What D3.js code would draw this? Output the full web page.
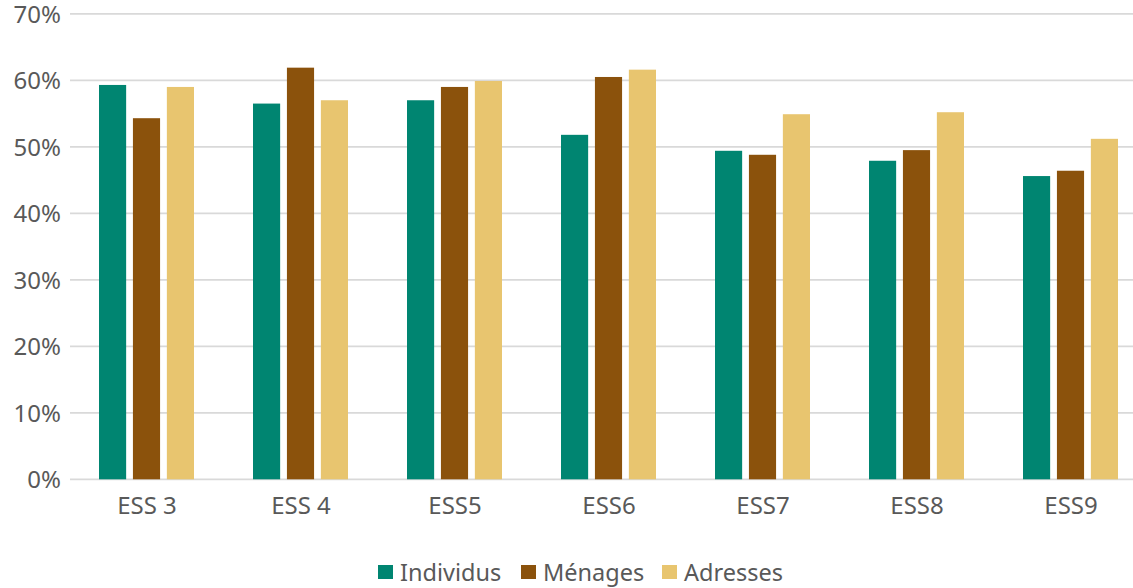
<!DOCTYPE html>
<html><head><meta charset="utf-8">
<script src="https://cdn.jsdelivr.net/npm/d3@7"></script>
<style>body{margin:0;background:#fff}svg{display:block}text{font-family:"Noto Sans",sans-serif;fill:#595959}</style>
</head><body>
<svg id="c" width="1133" height="588"></svg>
<script>
const categories = ["ESS 3","ESS 4","ESS5","ESS6","ESS7","ESS8","ESS9"];
const seriesNames = ["Individus","Ménages","Adresses"];
const individus = [59.3,56.5,57.0,51.8,49.4,47.9,45.6];
const menages   = [54.3,61.9,59.0,60.5,48.8,49.5,46.4];
const adresses  = [59.0,57.0,59.9,61.6,54.9,55.2,51.2];
const yTicks = [0,10,20,30,40,50,60,70];
const colors = ["#008571","#8b520c","#e8c56f"];
const seriesValues = [individus, menages, adresses];

const svg = d3.select("#c");
const x = d3.scaleBand().domain(categories).range([70,1148]);
const y = d3.scaleLinear().domain([0,70]).range([479.3,13.8]);
const x1 = d3.scaleBand().domain(seriesNames).range([29,124]).paddingInner(0.2);

svg.append("g").selectAll("line").data(yTicks).join("line")
  .attr("x1",70).attr("x2",1148).attr("y1",d=>y(d)).attr("y2",d=>y(d))
  .attr("stroke","#d9d9d9").attr("stroke-width",1.8);

svg.append("g").selectAll("text").data(yTicks).join("text")
  .attr("x",61).attr("y",d=>y(d)+9).attr("text-anchor","end")
  .attr("font-size",24).text(d=>d+"%");

const g = svg.append("g");
seriesNames.forEach((s,i)=>{
  g.selectAll(null).data(categories).join("rect")
    .attr("x",c=>x(c)+x1(s)).attr("width",x1.bandwidth())
    .attr("y",(c,j)=>y(seriesValues[i][j]))
    .attr("height",(c,j)=>y(0)-y(seriesValues[i][j]))
    .attr("fill",colors[i]);
});

svg.append("g").selectAll("text").data(categories).join("text")
  .attr("x",c=>x(c)+x.bandwidth()/2).attr("y",514).attr("text-anchor","middle")
  .attr("font-size",24).text(d=>d);

const legendX = [378,521,662];
const lg = svg.append("g");
seriesNames.forEach((s,i)=>{
  lg.append("rect").attr("x",legendX[i]).attr("y",565).attr("width",15).attr("height",14).attr("fill",colors[i]);
  lg.append("text").attr("x",legendX[i]+22).attr("y",581).attr("font-size",23.5).text(s);
});
</script>
</body></html>
